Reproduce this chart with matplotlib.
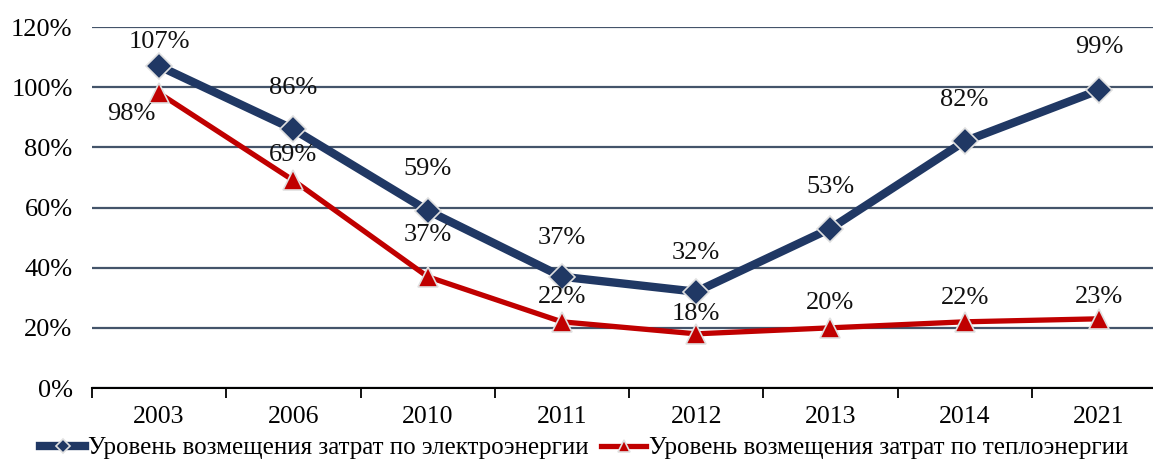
import matplotlib
matplotlib.use("Agg")
import matplotlib.pyplot as plt
from matplotlib.ticker import PercentFormatter

years = ["2003", "2006", "2010", "2011", "2012", "2013", "2014", "2021"]
electro = [107, 86, 59, 37, 32, 53, 82, 99]
heat = [98, 69, 37, 22, 18, 20, 22, 23]

label_electro = "Уровень возмещения затрат по электроэнергии"
label_heat = "Уровень возмещения затрат по теплоэнергии"

# label offsets in points (dx, dy)
off_electro = [(0, 17), (0, 30), (0, 30), (0, 28), (0, 28), (0, 30), (0, 30), (0, 31)]
off_heat = [(-20, -15), (0, 18), (0, 30), (0, 18), (0, 14), (0, 18), (0, 17), (0, 16)]

NAVY = "#203864"
RED = "#c00000"
GRID = "#44546a"

plt.rcParams["font.family"] = ["Liberation Serif", "DejaVu Serif"]

fig = plt.figure(figsize=(11.53, 4.61), dpi=100)
ax = fig.add_axes([92 / 1153, 73 / 461, (1166 - 92) / 1153, (388 - 27) / 461])

x = list(range(len(years)))
ax.plot(x, electro, color=NAVY, lw=6, marker="D", ms=13, mfc=NAVY,
        mec="#e0e0e0", mew=1.2, label=label_electro, zorder=4)
ax.plot(x, heat, color=RED, lw=3.8, marker="^", ms=15, mfc=RED,
        mec="#e0e0e0", mew=1.2, label=label_heat, zorder=3)

for xi, v, (dx, dy) in zip(x, electro, off_electro):
    ax.annotate(f"{v}%", (xi, v), xytext=(dx, dy), textcoords="offset points",
                ha="center", va="center", fontsize=19, color="#111111", zorder=6)
for xi, v, (dx, dy) in zip(x, heat, off_heat):
    ax.annotate(f"{v}%", (xi, v), xytext=(dx, dy), textcoords="offset points",
                ha="center", va="center", fontsize=19, color="#111111", zorder=6)

ax.set_xlim(-0.5, len(years) - 0.5)
ax.set_ylim(0, 120)
ax.set_yticks(range(0, 121, 20))
ax.yaxis.set_major_formatter(PercentFormatter(decimals=0))
ax.set_xticks(x)
ax.set_xticklabels(years)
ax.set_xticks([i + 0.5 for i in range(-1, len(years))], minor=True)
ax.tick_params(axis="x", which="major", length=0, pad=13, labelsize=18.5)
ax.tick_params(axis="x", which="minor", length=7, width=1.3, direction="out", color="black")
ax.tick_params(axis="y", length=0, pad=14, labelsize=19)

ax.grid(axis="y", color=GRID, lw=1.6)
ax.set_axisbelow(True)
for s in ["top", "right", "left"]:
    ax.spines[s].set_visible(False)
ax.spines["bottom"].set_color("black")
ax.spines["bottom"].set_linewidth(1.5)
ax.spines["bottom"].set_zorder(2)

leg = fig.legend(loc="center left", bbox_to_anchor=(40 / 1153, 13 / 461), ncol=2,
                 frameon=False, fontsize=18, handlelength=1.8, handletextpad=0.12,
                 columnspacing=0.5, borderaxespad=0, borderpad=0, markerscale=0.55)

fig.savefig("out.png", dpi=100)
